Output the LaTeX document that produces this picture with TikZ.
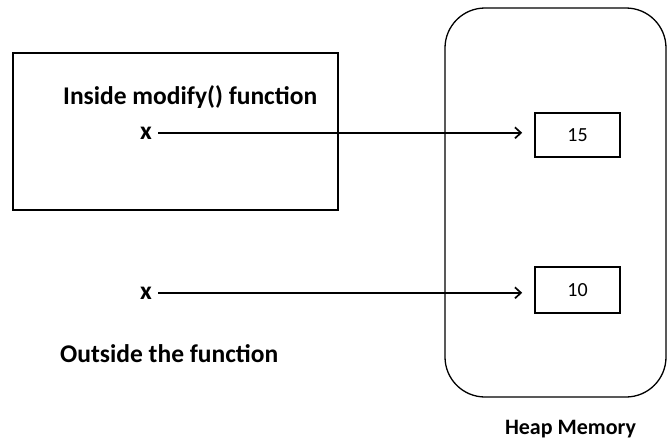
\documentclass[tikz,border=0pt]{standalone}
\usepackage{fontspec}
\setmainfont{Carlito}
\usetikzlibrary{arrows.meta}

\begin{document}
\begin{tikzpicture}[x=1pt, y=-1pt,
  box/.style={draw, line width=1.6pt, inner sep=0pt},
  ptr/.style={line width=1.7pt, -{Straight Barb[length=6pt,width=11pt,line width=1.7pt]}, shorten >=12pt},
  lbl/.style={font=\bfseries\fontsize{25.5}{30}\selectfont, inner sep=0pt},
  num/.style={font=\fontsize{20}{24}\selectfont}]
\useasboundingbox (0, 0) rectangle (668, 439);

\node[box, minimum width=325, minimum height=157] (funcbox) at (175.5, 131.5) {};
\node[box, line width=1.3pt, rounded corners=40, minimum width=221, minimum height=389] (heap) at (555.5, 202.5) {};

\node[box, minimum width=85, minimum height=44, num] (val15) at (577.5, 135) {15};
\node[box, minimum width=85, minimum height=46, num] (val10) at (577.5, 290) {10};

\node[lbl, anchor=base west] (inlbl) at (63, 104) {Inside modify() function};
\node[lbl, anchor=base east] (xin) at (152, 139) {x};
\node[lbl, anchor=base east] (xout) at (152, 299) {x};
\node[lbl, anchor=base west] (outlbl) at (60, 362) {Outside the function};
\node[font=\bfseries\fontsize{22}{26}\selectfont, inner sep=0pt, anchor=base] (heaplbl) at (570.5, 434) {Heap Memory};

\draw[ptr] ([xshift=6pt]xin.east) -- (xin.east -| val15.west);
\draw[ptr] ([xshift=6pt]xout.east) -- (xout.east -| val10.west);

\end{tikzpicture}
\end{document}
